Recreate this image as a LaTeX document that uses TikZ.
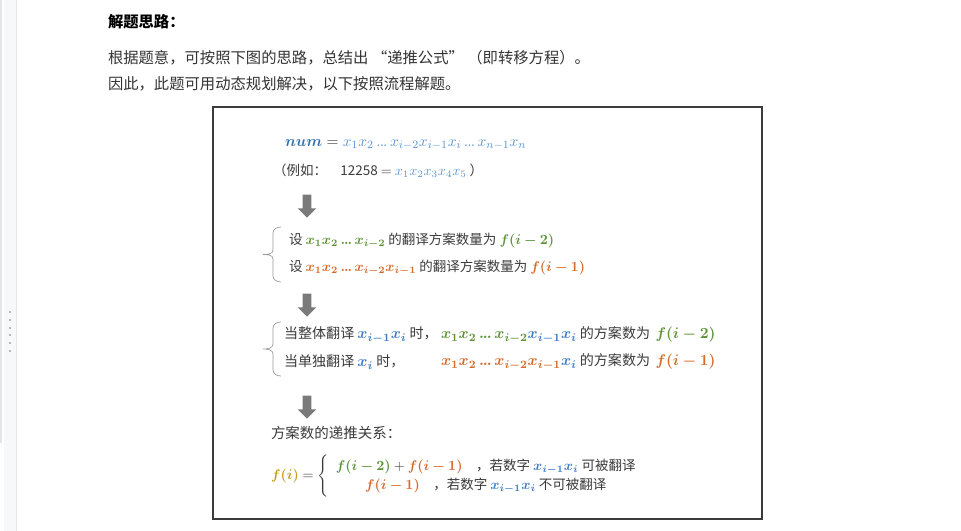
\documentclass[tikz,border=0pt]{standalone}
\usepackage[no-math]{fontspec}
\usepackage{amsmath,bm}
\setmainfont{Noto Sans CJK SC}
\usetikzlibrary{shapes.arrows}
\DeclareMathSizes{10}{10.6}{7.6}{5.6}
\DeclareMathSizes{10.4}{10.8}{7.8}{5.8}
\newcommand{\tdots}{\mathinner{{.}\mkern-1mu{.}\mkern-1mu{.}}}
\definecolor{txtpara}{HTML}{333333}
\definecolor{txtbox}{HTML}{3A3A3A}
\definecolor{numblue}{HTML}{2F6FAF}
\definecolor{xlight}{HTML}{5B93CF}
\definecolor{xblue}{HTML}{3F7DC4}
\definecolor{fgreen}{HTML}{5E9338}
\definecolor{forange}{HTML}{D66A28}
\definecolor{fgold}{HTML}{C89B1C}
\definecolor{arrowgray}{HTML}{7A7A7A}
\definecolor{bracegray}{HTML}{9A9A9A}
\definecolor{framegray}{HTML}{3C3C3C}
\definecolor{stripgray}{HTML}{E4E5E8}
\definecolor{panelgray}{HTML}{F7F8FA}
\definecolor{dotgray}{HTML}{B8B8B8}

\begin{document}
\begin{tikzpicture}[x=0.025cm, y=-0.025cm,
    every node/.style={inner sep=0pt, outer sep=0pt},
    para/.style={anchor=west, text=txtpara, font=\fontsize{10.9}{13}\selectfont},
    boxline/.style={anchor=west, text=txtbox, font=\fontsize{9.6}{12}\selectfont},
    bigline/.style={boxline, font=\fontsize{10}{12.5}\selectfont},
    downarrow/.style={single arrow, fill=arrowgray, rotate=-90, minimum height=0.575cm,
        inner sep=0.1cm, single arrow head extend=0.125cm, single arrow head indent=0pt},
    bracket/.style={draw=bracegray, line width=0.5pt},
]
\useasboundingbox (0,0) rectangle (961,531);

% side panel of the page
\fill[stripgray] (0,0) rectangle (2,443);
\fill[panelgray] (4,0) rectangle (16,531);
\draw[stripgray, line width=0.4pt] (16,0) -- (16,531);
\foreach \y in {311,319,327,334,342,350}
    \fill[dotgray] (9,\y) rectangle (11,\y+2);

% Heading and intro
\node[para, font=\fontsize{10.9}{13}\selectfont\bfseries, text=black] (head) at (108,22) {解题思路：};
\node[para] (intro1) at (108,58) {根据题意，可按照下图的思路，总结出 “递推公式” （即转移方程）。};
\node[para] (intro2) at (108,84) {因此，此题可用动态规划解决，以下按照流程解题。};

% Frame
\draw[framegray, line width=1.3pt] (213,107) rectangle (762,519);

% Number as digits
\node[boxline, font=\fontsize{10.4}{12}\selectfont] (num) at (285,145)
    {$\textcolor{numblue}{\bm{num}} = \textcolor{xlight}{x_1x_2\tdots x_{i-2}x_{i-1}x_i\tdots x_{n-1}x_n}$};
\node[boxline] (example) at (273,171)
    {（例如：\quad 12258 $=$ $\textcolor{xlight}{x_1x_2x_3x_4x_5}$ ）};

\node[downarrow] (arrA) at (307,204) {};

% Sub-problems
\draw[bracket] (281,227) to[out=180,in=90] (273,233) -- (273,250)
    to[out=-90,in=0] (263,254.5) to[out=0,in=90] (273,259) -- (273,276)
    to[out=-90,in=180] (281,282);
\node[boxline] (subA) at (289,241)
    {设 $\textcolor{fgreen}{\bm{x_1x_2\tdots x_{i-2}}}$ 的翻译方案数量为 $\textcolor{fgreen}{\bm{f(i-2)}}$};
\node[boxline] (subB) at (289,268)
    {设 $\textcolor{forange}{\bm{x_1x_2\tdots x_{i-2}x_{i-1}}}$ 的翻译方案数量为 $\textcolor{forange}{\bm{f(i-1)}}$};

\node[downarrow] (arrB) at (307,303) {};

% Two ways to translate the last digits
\draw[bracket] (281,322) to[out=180,in=90] (273,328) -- (273,344)
    to[out=-90,in=0] (263,349) to[out=0,in=90] (273,354) -- (273,370)
    to[out=-90,in=180] (281,376);
\node[bigline] (wholeL) at (284,335)
    {当整体翻译 $\textcolor{xblue}{\bm{x_{i-1}x_i}}$ 时，};
\node[bigline] (wholeR) at (441,335)
    {$\textcolor{fgreen}{\bm{x_1x_2\tdots x_{i-2}}}\textcolor{xblue}{\bm{x_{i-1}x_i}}$ 的方案数为 \,$\textcolor{fgreen}{\bm{f(i-2)}}$};
\node[bigline] (singleL) at (284,362)
    {当单独翻译 $\textcolor{xblue}{\bm{x_i}}$ 时，};
\node[bigline] (singleR) at (441,362)
    {$\textcolor{forange}{\bm{x_1x_2\tdots x_{i-2}x_{i-1}}}\textcolor{xblue}{\bm{x_i}}$ 的方案数为 \,$\textcolor{forange}{\bm{f(i-1)}}$};

\node[downarrow] (arrC) at (307,405) {};

% Recurrence
\node[boxline, font=\fontsize{10.3}{12}\selectfont] (relation) at (271,433) {方案数的递推关系：};
\node[boxline] (recur) at (271,476)
    {$\renewcommand{\arraystretch}{1.15}\textcolor{fgold}{\bm{f(i)}} = \left\{\begin{array}{c}
        \textcolor{fgreen}{\bm{f(i-2)}} + \textcolor{forange}{\bm{f(i-1)}}\quad\text{，若数字 }\textcolor{xblue}{\bm{x_{i-1}x_i}}\text{ 可被翻译}\\
        \textcolor{forange}{\bm{f(i-1)}}\quad\text{，若数字 }\textcolor{xblue}{\bm{x_{i-1}x_i}}\text{ 不可被翻译}
    \end{array}\right.$};

\end{tikzpicture}
\end{document}
